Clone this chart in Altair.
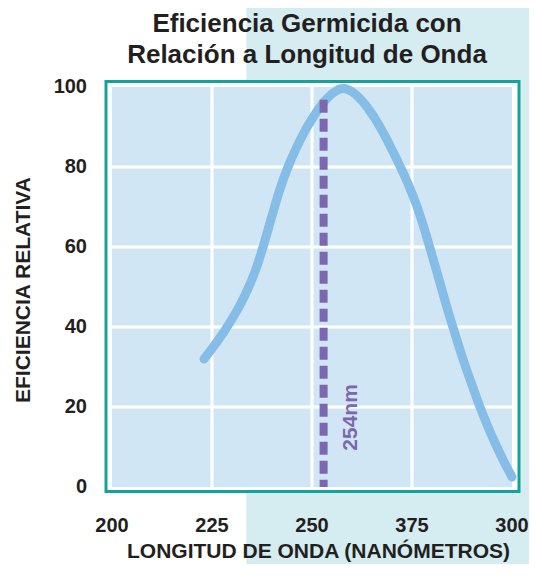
import altair as alt
import pandas as pd

# ---- data ----
wavelength = [223, 225, 228, 230, 232, 234, 236, 238, 240, 242, 244, 246, 248, 250, 252,
              254, 256, 257, 258, 260, 262, 264, 266, 268, 270, 272, 274, 276, 278, 280,
              282, 284, 286, 288, 290, 292, 294, 296, 298, 300]
efficiency = [32, 34.6, 38.8, 42, 45.5, 49.6, 54.5, 60.8, 67.8, 74.5, 80, 84.6, 88.6, 92, 95,
              97.4, 99, 99.5, 99.6, 98.8, 97.1, 94.7, 91.7, 88.2, 84.3, 80.2, 75.8, 70.8, 64.8, 58,
              51, 44, 37.5, 31.2, 25.5, 20, 15, 10.5, 6.3, 2.5]

x_ticks = [200, 225, 250, 275, 300]
x_tick_labels = ["200", "225", "250", "375", "300"]
y_ticks = [0, 20, 40, 60, 80, 100]
y_tick_labels = ["0", "20", "40", "60", "80", "100"]
grid_x = [225, 250, 275]
grid_y = [20, 40, 60, 80]

marker_nm = [252.9]
marker_top = [96.8]
marker_bottom = [0]
label_x = [259.7]
label_y = [17.4]
label_text = ["254nm"]
panel_start = [233.6]

title_lines = ["Eficiencia Germicida con", "Relación a Longitud de Onda"]
x_title = ["LONGITUD DE ONDA (NANÓMETROS)"]
y_title = ["EFICIENCIA RELATIVA"]

# ---- styling ----
W, H = 400, 400
FONT = "Liberation Sans"
TXT = "#231f20"
CYAN = "#d5ecf0"
FILL = "#d1e6f5"
TEAL = "#13a39a"
CURVE = "#85bde6"
PURPLE = "#7b68ae"

xscale = alt.Scale(domain=[200, 300], nice=False, zero=False)
yscale = alt.Scale(domain=[0, 100], nice=False, zero=False)

curve_df = pd.DataFrame({"wavelength": wavelength, "efficiency": efficiency})
gridx_df = pd.DataFrame({"gx": grid_x})
gridy_df = pd.DataFrame({"gy": grid_y})
marker_df = pd.DataFrame({"nm": marker_nm, "top": marker_top, "bottom": marker_bottom})
label_df = pd.DataFrame({"lx": label_x, "ly": label_y, "t": label_text})
panel_df = pd.DataFrame({"px": panel_start})
one_df = pd.DataFrame({"k": [0]})
xlab_df = pd.DataFrame({"v": x_ticks, "lab": x_tick_labels})
ylab_df = pd.DataFrame({"v": y_ticks, "lab": y_tick_labels})
xtitle_df = pd.DataFrame({"t": x_title})
ytitle_df = pd.DataFrame({"t": y_title})

panel = alt.Chart(panel_df).mark_rect(color=CYAN).encode(
    x=alt.X("px:Q", scale=xscale, axis=None),
    x2=alt.value(W + 60),
    y=alt.value(-79),
    y2=alt.value(H + 140),
)

frame = alt.Chart(one_df).mark_rect(fill="white", stroke=TEAL, strokeWidth=3).encode(
    x=alt.value(-6), x2=alt.value(W + 7), y=alt.value(-5.5), y2=alt.value(H + 4.5)
)

plotfill = alt.Chart(one_df).mark_rect(fill=FILL).encode(
    x=alt.value(0), x2=alt.value(W), y=alt.value(0), y2=alt.value(H)
)

gridx = alt.Chart(gridx_df).mark_rule(color="white", strokeWidth=3).encode(
    x=alt.X("gx:Q", scale=xscale, axis=None)
)
gridy = alt.Chart(gridy_df).mark_rule(color="white", strokeWidth=3).encode(
    y=alt.Y("gy:Q", scale=yscale, axis=None)
)

curve = alt.Chart(curve_df).mark_line(
    color=CURVE, strokeWidth=9, strokeCap="round", strokeJoin="round", interpolate="monotone"
).encode(
    x=alt.X("wavelength:Q", scale=xscale, axis=None),
    y=alt.Y("efficiency:Q", scale=yscale, axis=None),
)

marker = alt.Chart(marker_df).mark_rule(
    color=PURPLE, strokeWidth=8, strokeDash=[13, 6], strokeCap="butt"
).encode(
    x=alt.X("nm:Q", scale=xscale, axis=None),
    y=alt.Y("top:Q", scale=yscale, axis=None),
    y2="bottom:Q",
)

label = alt.Chart(label_df).mark_text(
    angle=270, align="center", baseline="middle", font=FONT, fontSize=21,
    fontWeight="bold", color=PURPLE
).encode(
    x=alt.X("lx:Q", scale=xscale, axis=None),
    y=alt.Y("ly:Q", scale=yscale, axis=None),
    text="t:N",
)

# axis labels and titles (drawn through the same scales)
xlabels = alt.Chart(xlab_df).mark_text(
    align="center", baseline="middle", font=FONT, fontSize=20, fontWeight="bold", color=TXT
).encode(
    x=alt.X("v:Q", scale=xscale, axis=None),
    y=alt.value(H + 39),
    text="lab:N",
)
ylabels = alt.Chart(ylab_df).mark_text(
    align="right", baseline="middle", font=FONT, fontSize=20, fontWeight="bold", color=TXT
).encode(
    y=alt.Y("v:Q", scale=yscale, axis=None),
    x=alt.value(-25),
    text="lab:N",
)
xtitle = alt.Chart(xtitle_df).mark_text(
    align="center", baseline="alphabetic", font=FONT, fontSize=21, fontWeight="bold", color=TXT
).encode(
    x=alt.value(W / 2 + 6.5), y=alt.value(H + 71), text="t:N"
)
ytitle = alt.Chart(ytitle_df).mark_text(
    align="center", baseline="alphabetic", angle=270, font=FONT, fontSize=21,
    fontWeight="bold", color=TXT
).encode(
    x=alt.value(-82), y=alt.value(H / 2 + 3), text="t:N"
)

chart = alt.layer(panel, frame, plotfill, gridx, gridy, curve, marker, label,
                  xlabels, ylabels, xtitle, ytitle).properties(
    width=W,
    height=H,
    padding={"left": 104, "top": 79, "right": 17, "bottom": 77},
    autosize=alt.AutoSizeParams(type="none"),
    title=alt.TitleParams(title_lines, font=FONT, fontSize=26, fontWeight="bold",
                          color=TXT, lineHeight=31, anchor="middle", frame="group",
                          dx=-5, dy=80, offset=20),
).configure_view(stroke=None).configure(background="white")

chart.save("out.html", embed_options={"renderer": "svg", "actions": False})
